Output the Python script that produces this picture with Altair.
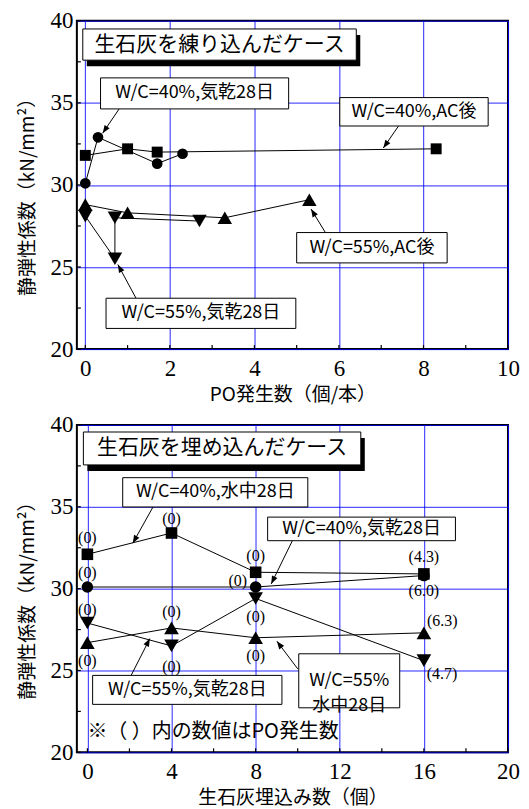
import math
import altair as alt
import pandas as pd

FONT_JP = "Noto Sans CJK JP"
FONT_NUM = "Liberation Serif"

# ---------------- data: top panel (生石灰を練り込んだケース) ----------------
top_c_x = [0, 0.3, 1.7, 2.3]          # W/C=40%, 気乾28日 (circle)
top_c_y = [30.1, 32.9, 31.3, 31.9]
top_s_x = [0, 1.0, 1.7, 8.3]          # W/C=40%, AC後 (square)
top_s_y = [31.8, 32.2, 32.0, 32.2]
top_u_x = [0, 1.0, 3.3, 5.3]          # W/C=55%, AC後 (triangle up)
top_u_y = [28.8, 28.3, 28.0, 29.1]
top_d_x = [0, 0.7, 0.7, 2.7]          # W/C=55%, 気乾28日 (triangle down)
top_d_y = [28.1, 25.5, 28.0, 27.8]

# ---------------- data: bottom panel (生石灰を埋め込んだケース) ----------------
bot_s_x = [0, 4, 8, 16]               # W/C=40%, 水中28日 (square)
bot_s_y = [32.1, 33.4, 31.0, 30.9]
bot_c_x = [0, 8, 16]                  # W/C=40%, 気乾28日 (circle)
bot_c_y = [30.1, 30.1, 30.8]
bot_d_x = [0, 4, 8, 16]               # W/C=55%, 気乾28日 (triangle down)
bot_d_y = [27.9, 26.5, 29.4, 25.6]
bot_u_x = [0, 4, 8, 16]               # W/C=55%, 水中28日 (triangle up)
bot_u_y = [26.7, 27.6, 27.0, 27.3]

# PO counts shown in parentheses
po_text = ["(0)", "(0)", "(0)", "(0)", "(0)", "(4.3)", "(6.0)", "(0)", "(0)",
           "(6.3)", "(4.7)", "(0)", "(0)", "(0)", "(0)"]
po_x = [0, 0, 4, 8, 7.15, 16, 16, 8, 8, 16.87, 16.86, 0, 0, 4, 4]
po_y = [33.08, 30.95, 34.25, 31.98, 30.49, 31.91, 29.84, 28.25, 25.91,
        28.05, 24.76, 28.68, 25.55, 28.6, 25.24]

# axis ticks
top_x_major = [0, 2, 4, 6, 8, 10]
top_x_ticks = [0, 1, 2, 3, 4, 5, 6, 7, 8, 9, 10]
bot_x_major = [0, 4, 8, 12, 16, 20]
bot_x_ticks = [0, 2, 4, 6, 8, 10, 12, 14, 16, 18, 20]
y_major = [20, 25, 30, 35, 40]
y_ticks = [20, 22.5, 25, 27.5, 30, 32.5, 35, 37.5, 40]

Y_TITLE = "静弾性係数（kN/mm²）"
TOP_X_TITLE = "PO発生数（個/本）"
BOT_X_TITLE = "生石灰埋込み数（個）"

# annotations (data units): boxes [x1, x2, y1, y2, text]
top_title = [-0.06, 6.41, 39.5, 37.6, "生石灰を練り込んだケース"]
top_boxes = [
    [0.36, 4.81, 36.52, 34.63, "W/C=40%,気乾28日"],
    [6.02, 9.53, 35.32, 33.59, "W/C=40%,AC後"],
    [5.00, 8.56, 27.10, 25.25, "W/C=55%,AC後"],
    [0.49, 4.98, 23.10, 21.26, "W/C=55%,気乾28日"],
]
top_arrows = [
    [0.80, 34.63, 0.41, 33.15],
    [7.41, 33.59, 7.05, 32.25],
    [5.68, 27.10, 5.34, 28.53],
    [1.20, 23.10, 0.77, 25.15],
]
bot_title = [-0.19, 13.0, 39.57, 37.56, "生石灰を埋め込んだケース"]
bot_boxes = [
    [1.68, 10.48, 36.78, 34.99, "W/C=40%,水中28日"],
    [8.57, 17.50, 34.37, 32.93, "W/C=40%,気乾28日"],
    [0.25, 9.25, 24.70, 22.93, "W/C=55%,気乾28日"],
    [10.05, 14.85, 26.02, 22.72, "W/C=55%\n水中28日"],
]
bot_arrows = [
    [3.12, 34.99, 2.16, 32.78],
    [9.77, 32.99, 8.74, 30.29],
    [2.08, 24.70, 2.97, 26.95],
    [10.00, 25.10, 9.01, 26.79],
]
bot_note = [0.0, 21.24, "※（ ）内の数値はPO発生数"]

W = 432
H_TOP = 329
H_BOT = 328
ARROW_PATH = "M0,0L-0.38,1L0.38,1Z"


def series_df(xs, ys):
    return pd.DataFrame({"x": xs, "y": ys, "o": list(range(len(xs)))})


def panel(series, xdom, xmajor, xticks, xtitle, H, title_box, boxes, arrows,
          labels=None, note=None):
    ydom = [20, 40]
    kx = W / (xdom[1] - xdom[0])
    ky = H / (ydom[1] - ydom[0])

    def X(field="x"):
        return alt.X(f"{field}:Q",
                     scale=alt.Scale(domain=xdom, nice=False, zero=False),
                     axis=alt.Axis(values=xmajor, title=xtitle, grid=True,
                                   ticks=False, tickSize=0, domain=False,
                                   labelPadding=8, labelFlush=False,
                                   labelOverlap=False, titleY=36))

    def Y(field="y"):
        return alt.Y(f"{field}:Q",
                     scale=alt.Scale(domain=ydom, nice=False, zero=False),
                     axis=alt.Axis(values=y_major, title=Y_TITLE, grid=True,
                                   ticks=False, tickSize=0, domain=False,
                                   labelPadding=4, labelFlush=False,
                                   labelOverlap=False, titleX=-49,
                                   titleY=H / 2 + 7, titleBaseline="middle"))

    layers = []
    # inward ticks
    xt = pd.DataFrame({"x": xticks})
    layers.append(alt.Chart(xt).mark_rule(color="black", strokeWidth=1.2).encode(
        x=X(), y=alt.value(H), y2=alt.value(H - 4)))
    yt = pd.DataFrame({"y": y_ticks})
    layers.append(alt.Chart(yt).mark_rule(color="black", strokeWidth=1.2).encode(
        y=Y(), x=alt.value(0), x2=alt.value(4)))

    # series lines and markers
    for df, shape, size in series:
        layers.append(alt.Chart(df).mark_line(color="black", strokeWidth=1).encode(
            x=X(), y=Y(), order="o:Q"))
        layers.append(alt.Chart(df).mark_point(
            shape=shape, filled=True, color="black", opacity=1, size=size).encode(
            x=X(), y=Y()))

    # arrows
    ad = pd.DataFrame(arrows, columns=["x1", "y1", "x2", "y2"])
    ad["ang"] = [(math.degrees(math.atan2((r.x2 - r.x1) * kx, (r.y2 - r.y1) * ky)) + 360) % 360
                 for r in ad.itertuples()]
    layers.append(alt.Chart(ad).mark_rule(color="black", strokeWidth=1).encode(
        x=X("x1"), y=Y("y1"), x2="x2:Q", y2="y2:Q"))
    layers.append(alt.Chart(ad).mark_point(
        shape=ARROW_PATH, filled=True, color="black", opacity=1, size=256).encode(
        x=X("x2"), y=Y("y2"), angle=alt.Angle("ang:Q", scale=None)))

    # title box with shadow
    tb = pd.DataFrame([title_box], columns=["x1", "x2", "y1", "y2", "t"])
    tb["cx"] = (tb.x1 + tb.x2) / 2
    tb["cy"] = (tb.y1 + tb.y2) / 2
    layers.append(alt.Chart(tb).mark_rect(
        color="black", xOffset=4, x2Offset=4, yOffset=6, y2Offset=6).encode(
        x=X("x1"), x2="x2:Q", y=Y("y1"), y2="y2:Q"))
    layers.append(alt.Chart(tb).mark_rect(
        fill="white", stroke="black", strokeWidth=1).encode(
        x=X("x1"), x2="x2:Q", y=Y("y1"), y2="y2:Q"))
    layers.append(alt.Chart(tb).mark_text(
        font=FONT_JP, fontSize=21, color="black", align="center",
        baseline="middle").encode(x=X("cx"), y=Y("cy"), text="t:N"))

    # label boxes
    bx = pd.DataFrame(boxes, columns=["x1", "x2", "y1", "y2", "t"])
    bx["cx"] = (bx.x1 + bx.x2) / 2
    bx["cy"] = (bx.y1 + bx.y2) / 2
    layers.append(alt.Chart(bx).mark_rect(
        fill="white", stroke="black", strokeWidth=1).encode(
        x=X("x1"), x2="x2:Q", y=Y("y1"), y2="y2:Q"))
    layers.append(alt.Chart(bx).mark_text(
        font=FONT_JP, fontSize=18, color="black", align="center",
        baseline="middle", lineBreak="\n", lineHeight=25).encode(
        x=X("cx"), y=Y("cy"), text="t:N"))

    if labels is not None:
        layers.append(alt.Chart(labels).mark_text(
            font=FONT_NUM, fontSize=16, color="black", align="center",
            baseline="middle").encode(x=X(), y=Y(), text="t:N"))
    if note is not None:
        nd = pd.DataFrame([note], columns=["x", "y", "t"])
        layers.append(alt.Chart(nd).mark_text(
            font=FONT_JP, fontSize=20, color="black", align="left",
            baseline="middle").encode(x=X(), y=Y(), text="t:N"))

    return alt.layer(*layers).properties(width=W, height=H)


top_series = [
    (series_df(top_c_x, top_c_y), "circle", 115),
    (series_df(top_s_x, top_s_y), "square", 120),
    (series_df(top_u_x, top_u_y), "triangle-up", 210),
    (series_df(top_d_x, top_d_y), "triangle-down", 210),
]
bot_series = [
    (series_df(bot_s_x, bot_s_y), "square", 135),
    (series_df(bot_c_x, bot_c_y), "circle", 135),
    (series_df(bot_d_x, bot_d_y), "triangle-down", 215),
    (series_df(bot_u_x, bot_u_y), "triangle-up", 215),
]
labels_df = pd.DataFrame({"x": po_x, "y": po_y, "t": po_text})

top = panel(top_series, [-0.2, 10], top_x_major, top_x_ticks, TOP_X_TITLE,
            H_TOP, top_title, top_boxes, top_arrows)
bot = panel(bot_series, [-0.5, 20], bot_x_major, bot_x_ticks, BOT_X_TITLE,
            H_BOT, bot_title, bot_boxes, bot_arrows, labels=labels_df, note=bot_note)

chart = alt.vconcat(top, bot, spacing=8).properties(
    padding={"left": 10, "top": 0, "right": 0, "bottom": 0}
).configure_view(
    stroke="black", strokeWidth=2
).configure_axis(
    gridColor="#0000ff", gridWidth=1, gridOpacity=0.85,
    labelFont=FONT_NUM, labelFontSize=23, labelColor="black",
    titleFont=FONT_JP, titleFontSize=19, titleFontWeight="normal",
    titleColor="black"
)

chart.save("out.html", embed_options={"renderer": "svg", "actions": False})
